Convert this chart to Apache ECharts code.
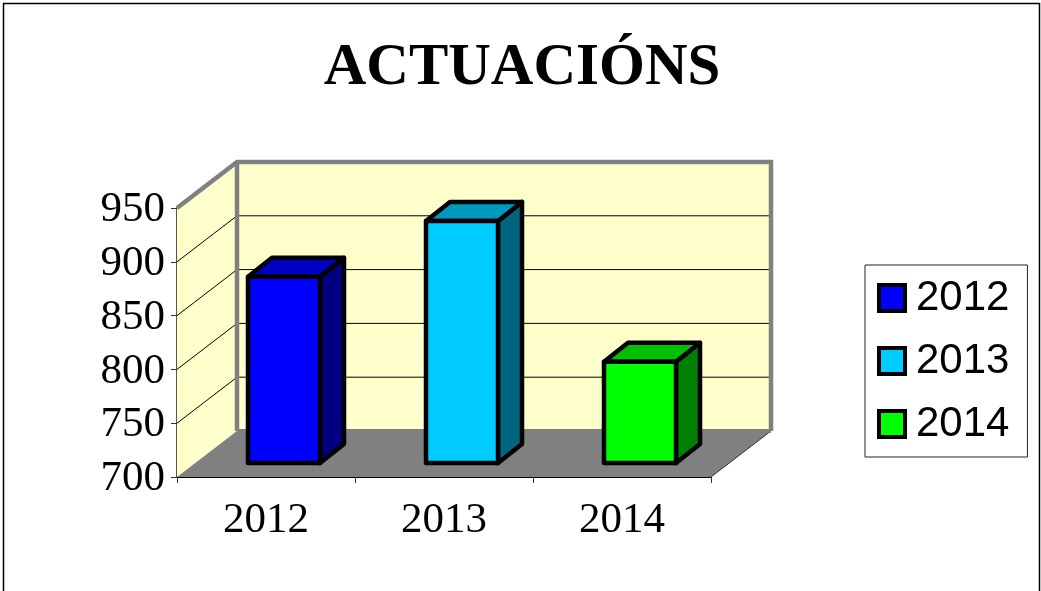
<!DOCTYPE html>
<html><head><meta charset="utf-8">
<style>html,body{margin:0;padding:0;background:#fff}#c{width:1041px;height:591px}</style>
<script src="https://cdn.jsdelivr.net/npm/echarts@6/dist/echarts.min.js"></script>
</head><body><div id="c"></div>
<script>
const titleText = 'ACTUACIÓNS';
const categories = ['2012', '2013', '2014'];
const values = [873, 925, 794];
const yTicks = [700, 750, 800, 850, 900, 950];
const frontColors = ['#0000ff', '#00ccff', '#00ff00'];
const topColors = ['#0000c0', '#0099c0', '#00c000'];
const sideColors = ['#000080', '#006680', '#008000'];

const DX = 60, DY = 46;          // depth of the 3D box
const BDX = 24, BDY = 19;        // depth of a bar
const SHIFT_X = 18, SHIFT_Y = 14; // bar offset from the front plane
const BAR_W = 72;

function poly(points, style, z2) {
  return { type: 'polygon', shape: { points }, style, z2: z2 || 0 };
}
function line(x1, y1, x2, y2, stroke, lineWidth, z2) {
  return { type: 'line', shape: { x1, y1, x2, y2 }, style: { stroke, lineWidth, fill: null }, z2: z2 || 0 };
}

function renderBox(params, api) {
  const g = params.coordSys;
  const l = g.x, r = g.x + g.width, t = g.y, b = g.y + g.height;
  const wall = { fill: '#ffffcc' };
  const edge = '#808080';
  const children = [
    poly([[l, b], [l, t], [l + DX, t - DY], [l + DX, b - DY]], wall),
    poly([[l + DX, b - DY], [l + DX, t - DY], [r + DX, t - DY], [r + DX, b - DY]], wall),
    poly([[l, b], [r, b], [r + DX, b - DY], [l + DX, b - DY]], { fill: '#808080' }, 1)
  ];
  const last = yTicks[yTicks.length - 1];
  yTicks.slice(1).forEach(v => {
    const y = api.coord([0, v])[1];
    if (v !== last) {
      children.push(line(l, y, l + DX, y - DY, '#000', 1, 2));
      children.push(line(l + DX, y - DY, r + DX, y - DY, '#000', 1, 2));
    }
  });
  children.push(line(r, b, r + DX, b - DY, '#333', 1, 2));
  children.push(line(l + DX, b - DY, r + DX, b - DY, edge, 4, 2));
  children.push({
    type: 'polyline',
    shape: { points: [[l, t], [l + DX, t - DY], [r + DX, t - DY], [r + DX, b - DY]] },
    style: { stroke: edge, lineWidth: 4.5, fill: null, lineJoin: 'miter' }, z2: 3
  });
  children.push(line(l + DX, t - DY, l + DX, b - DY, edge, 4.5, 3));
  return { type: 'group', children };
}

function renderBar(params, api) {
  const i = api.value(0);
  const top = api.coord([i, api.value(1)]);
  const base = api.coord([i, yTicks[0]]);
  const x0 = top[0] + SHIFT_X - BAR_W / 2, x1 = x0 + BAR_W;
  const y0 = top[1] - SHIFT_Y, y1 = base[1] - SHIFT_Y;
  const border = { stroke: '#000', lineWidth: 4.5, lineJoin: 'round' };
  return {
    type: 'group',
    children: [
      poly([[x1, y0], [x1 + BDX, y0 - BDY], [x1 + BDX, y1 - BDY], [x1, y1]], { fill: sideColors[i], ...border }),
      poly([[x0, y0], [x0 + BDX, y0 - BDY], [x1 + BDX, y0 - BDY], [x1, y0]], { fill: topColors[i], ...border }),
      poly([[x0, y0], [x1, y0], [x1, y1], [x0, y1]], { fill: frontColors[i], ...border })
    ]
  };
}

const barSeries = categories.map((name, i) => ({
  name,
  type: 'custom',
  coordinateSystem: 'cartesian2d',
  renderItem: renderBar,
  encode: { x: 0, y: 1 },
  itemStyle: { color: frontColors[i] },
  data: [[i, values[i]]],
  z: 5,
  silent: true
}));

const chart = echarts.init(document.getElementById('c'), null, { renderer: 'canvas' });
chart.setOption({
  animation: false,
  backgroundColor: '#fff',
  title: {
    text: titleText, left: 517, textAlign: 'center', top: 34,
    textStyle: { fontFamily: 'Liberation Serif', fontWeight: 'bold', fontSize: 59, color: '#000' }
  },
  legend: {
    data: categories,
    orient: 'vertical',
    left: 865, top: 265,
    padding: [12, 18, 12, 12],
    itemWidth: 26, itemHeight: 26, itemGap: 21,
    icon: 'rect',
    borderColor: '#222', borderWidth: 1,
    itemStyle: { borderColor: '#000', borderWidth: 4 },
    textStyle: { fontFamily: 'Liberation Sans', fontSize: 42, color: '#000', padding: [0, 0, 0, 6] }
  },
  grid: { left: 177, right: 330, top: 208, bottom: 114, containLabel: false },
  xAxis: {
    type: 'category', data: categories,
    axisLine: { onZero: false, lineStyle: { color: '#000', width: 1 } },
    axisTick: { show: true, length: 6, lineStyle: { color: '#333' } },
    axisLabel: { fontFamily: 'Liberation Serif', fontSize: 43, color: '#000', margin: 22 },
    splitLine: { show: false }
  },
  yAxis: {
    type: 'value', min: 700, max: 950, interval: 50,
    axisLine: { show: true, lineStyle: { color: '#555', width: 2 } },
    axisTick: { show: true, length: 6, lineStyle: { color: '#333' } },
    axisLabel: {
      fontFamily: 'Liberation Serif', fontSize: 43, color: '#000', margin: 12,
      verticalAlign: 'top', lineHeight: 4
    },
    splitLine: { show: false }
  },
  graphic: [{
    type: 'rect', silent: true, z: -1,
    shape: { x: 3.5, y: 3.5, width: 1036, height: 620 },
    style: { fill: null, stroke: '#000', lineWidth: 1.5 }
  }],
  series: [{
    name: 'box', type: 'custom', coordinateSystem: 'cartesian2d',
    renderItem: renderBox, data: [[0, 700]], encode: { x: 0, y: 1 }, z: 1, silent: true
  }].concat(barSeries)
});
</script></body></html>
